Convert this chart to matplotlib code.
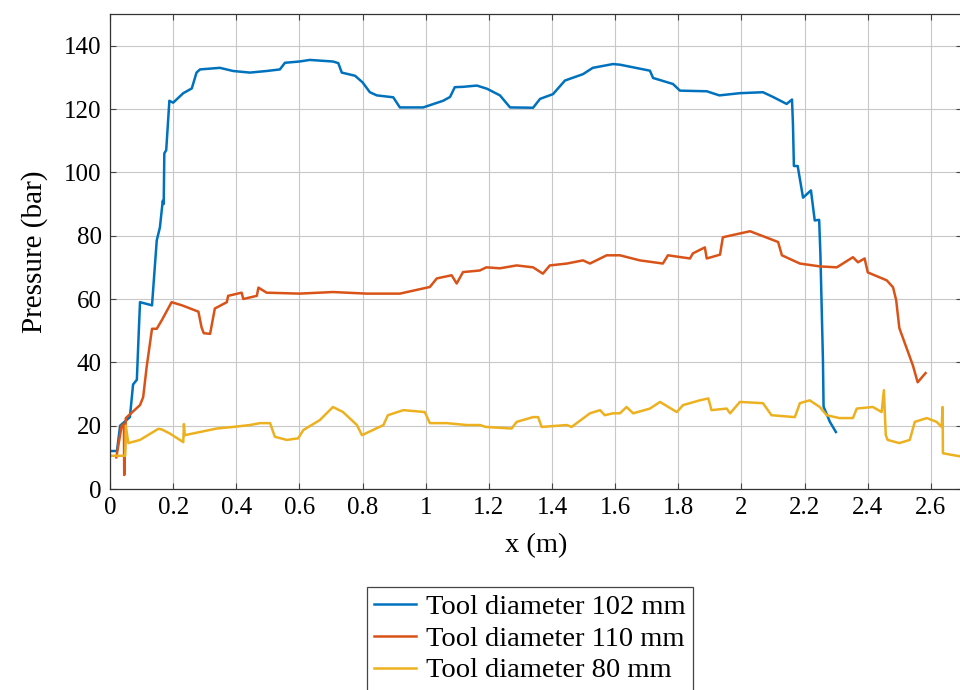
import matplotlib
matplotlib.use("Agg")
import matplotlib.pyplot as plt

# breakpoints (x in m, pressure in bar)
x_102 = [0.0, 0.022, 0.032, 0.063, 0.073, 0.085, 0.09, 0.095, 0.133, 0.148, 0.158, 0.167,
         0.17, 0.172, 0.178, 0.188, 0.2, 0.232, 0.259, 0.274, 0.285, 0.348, 0.39, 0.443,
         0.496, 0.538, 0.554, 0.60, 0.633, 0.706, 0.723, 0.734, 0.776, 0.80, 0.823, 0.845,
         0.897, 0.918, 0.992, 1.055, 1.077, 1.092, 1.118, 1.162, 1.194, 1.235, 1.267, 1.34,
         1.362, 1.403, 1.441, 1.498, 1.529, 1.593, 1.615, 1.71, 1.72, 1.783, 1.805, 1.89,
         1.93, 1.995, 2.068, 2.10, 2.143, 2.16, 2.163, 2.166, 2.178, 2.195, 2.22, 2.232,
         2.246, 2.25, 2.258, 2.26, 2.28, 2.299]
p_102 = [12, 12, 20, 22.7, 33, 34.5, 47, 59, 58, 78.5, 82.6, 91,
         90, 106, 107, 122.6, 122, 125, 126.5, 131.5, 132.5, 133, 132, 131.5,
         132, 132.5, 134.6, 135, 135.5, 135, 134.5, 131.5, 130.5, 128.4, 125.3, 124.3,
         123.7, 120.5, 120.5, 122.6, 123.8, 126.9, 127, 127.4, 126.4, 124.3, 120.5, 120.4,
         123.2, 124.7, 129, 131, 133, 134.2, 134, 132.1, 129.8, 127.9, 125.8, 125.6,
         124.3, 125, 125.3, 123.8, 121.6, 123, 115.3, 102, 102, 92, 94.3, 84.8,
         85, 74, 40.7, 26, 21.2, 18]

x_110 = [0.02, 0.037, 0.044, 0.045, 0.05, 0.095, 0.105, 0.116, 0.133, 0.148, 0.164, 0.195,
         0.228, 0.28, 0.29, 0.297, 0.317, 0.332, 0.37, 0.374, 0.417, 0.422, 0.465, 0.47,
         0.496, 0.60, 0.706, 0.813, 0.918, 1.013, 1.035, 1.082, 1.098, 1.118, 1.171, 1.192,
         1.235, 1.288, 1.34, 1.371, 1.393, 1.447, 1.498, 1.52, 1.573, 1.615, 1.678, 1.751,
         1.767, 1.837, 1.846, 1.884, 1.89, 1.932, 1.941, 1.995, 2.027, 2.09, 2.116, 2.128,
         2.185, 2.248, 2.302, 2.353, 2.369, 2.39, 2.40, 2.46, 2.48, 2.49, 2.50, 2.543,
         2.558, 2.583]
p_110 = [10, 20, 20.5, 4.4, 22.4, 26.5, 29, 38.5, 50.6, 50.6, 53.3, 59,
         58, 56, 51, 49.2, 49, 57, 59, 61, 62, 60, 61, 63.6,
         62, 61.7, 62.2, 61.7, 61.7, 63.8, 66.5, 67.5, 64.9, 68.5, 69, 70,
         69.7, 70.6, 70, 68, 70.6, 71.2, 72.2, 71.2, 73.8, 73.8, 72.2, 71.2,
         73.8, 72.8, 74.4, 76.3, 72.8, 74, 79.5, 80.7, 81.4, 79, 78, 73.8,
         71.2, 70.3, 70, 73.2, 71.6, 72.8, 68.4, 65.9, 63.7, 59.6, 50.8, 39,
         33.7, 36.6]

x_80 = [0.0, 0.048, 0.05, 0.058, 0.095, 0.153, 0.164, 0.19, 0.232, 0.234, 0.237, 0.285,
        0.338, 0.39, 0.443, 0.475, 0.507, 0.522, 0.56, 0.596, 0.612, 0.665, 0.706, 0.738,
        0.782, 0.798, 0.866, 0.88, 0.929, 0.997, 1.013, 1.066, 1.13, 1.172, 1.19, 1.272,
        1.288, 1.34, 1.356, 1.367, 1.447, 1.462, 1.52, 1.552, 1.567, 1.593, 1.615, 1.636,
        1.657, 1.71, 1.742, 1.795, 1.815, 1.868, 1.895, 1.905, 1.953, 1.964, 1.995, 2.068,
        2.095, 2.169, 2.185, 2.216, 2.248, 2.27, 2.31, 2.353, 2.365, 2.416, 2.444, 2.451,
        2.457, 2.463, 2.50, 2.533, 2.549, 2.587, 2.618, 2.634, 2.637, 2.638, 2.67, 2.70]
p_80 = [10.5, 10.5, 20, 14.5, 15.5, 19, 18.8, 17.5, 14.8, 20.5, 17, 18,
        19.1, 19.6, 20.2, 20.8, 20.8, 16.5, 15.5, 16, 18.6, 21.8, 25.9, 24.3,
        20.2, 17, 20.2, 23.3, 24.9, 24.3, 20.8, 20.8, 20.2, 20.2, 19.6, 19.1,
        21.2, 22.7, 22.7, 19.6, 20.2, 19.6, 23.9, 24.9, 23.3, 23.9, 23.9, 25.9,
        23.9, 25.4, 27.5, 24.3, 26.5, 28, 28.6, 24.9, 25.4, 23.9, 27.5, 27.1,
        23.3, 22.7, 27.1, 28, 25.9, 23.3, 22.4, 22.4, 25.4, 25.9, 24.3, 31.2,
        17, 15.5, 14.5, 15.5, 21.2, 22.4, 21.2, 19.6, 25.9, 11.3, 10.7, 10.2]

labels = ["Tool diameter 102 mm", "Tool diameter 110 mm", "Tool diameter 80 mm"]
colors = ["#0072BD", "#D95319", "#EDB120"]

plt.rcParams['font.family'] = ['Liberation Serif', 'DejaVu Serif']

fig = plt.figure(figsize=(9.6, 6.9), dpi=100)
ax = fig.add_axes([0.1146, 0.2913, 0.888, 0.6884])

for xs, ps, lab, col in zip([x_102, x_110, x_80], [p_102, p_110, p_80], labels, colors):
    ax.plot(xs, ps, color=col, linewidth=1.8, label=lab)

ax.set_xlim(0, 2.7)
ax.set_ylim(0, 150)
ax.set_xticks([0, 0.2, 0.4, 0.6, 0.8, 1, 1.2, 1.4, 1.6, 1.8, 2, 2.2, 2.4, 2.6])
ax.set_xticklabels(["0", "0.2", "0.4", "0.6", "0.8", "1", "1.2", "1.4", "1.6", "1.8",
                    "2", "2.2", "2.4", "2.6"])
ax.set_yticks(range(0, 141, 20))
ax.grid(True, color="#c8c8c8", linewidth=0.8)
ax.set_axisbelow(True)
ax.tick_params(direction='in', length=4, width=0.8, top=True, right=True,
               labelsize=18, color="#444444", pad=6)
for s in ax.spines.values():
    s.set_color("#333333")
    s.set_linewidth(0.9)

ax.set_xlabel("x (m)", fontsize=20.5, labelpad=10)
ax.set_ylabel("Pressure (bar)", fontsize=21, labelpad=12)

leg = fig.legend(loc='upper center', bbox_to_anchor=(0.552, 0.149), fontsize=20.5,
                 frameon=True, fancybox=False, edgecolor="#444444", framealpha=1,
                 handlelength=1.5, handletextpad=0.35, labelspacing=0.2,
                 borderpad=0.25, borderaxespad=0)
leg.get_frame().set_linewidth(0.9)

fig.savefig("out.png", dpi=100)
